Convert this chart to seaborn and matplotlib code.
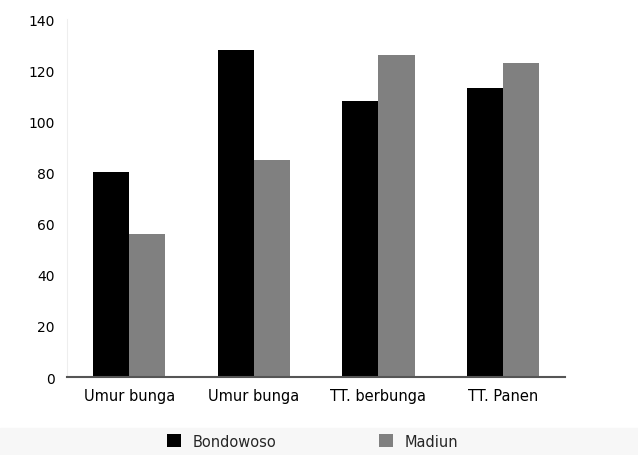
import seaborn as sns
import numpy as np
import pandas as pd
import matplotlib.pyplot as plt

# Data
categories = ["Umur bunga", "Umur bunga", "TT. berbunga", "TT. Panen"]
cat_keys = ["c0", "c1", "c2", "c3"]  # unique keys, since two labels repeat
bondowoso = [80, 128, 108, 113]
madiun = [56, 85, 126, 123]
series = ["Bondowoso", "Madiun"]

df = pd.DataFrame({
    "cat": cat_keys * 2,
    "value": bondowoso + madiun,
    "series": [series[0]] * 4 + [series[1]] * 4,
})

sns.set_style("white")
fig = plt.figure(figsize=(6.38, 4.56), dpi=100)
ax = fig.add_axes([0.105, 0.171, 0.781, 0.785])

sns.barplot(data=df, x="cat", y="value", hue="series", order=cat_keys,
            hue_order=series, palette=["#000000", "#808080"],
            width=0.58, saturation=1, linewidth=0, gap=0, ax=ax)

ax.set_xlim(-0.5, 3.5)
ax.set_ylim(0, 140)
ax.set_yticks(np.arange(0, 141, 20))
ax.set_xticks(range(4))
ax.set_xticklabels(categories, fontsize=10.5)
ax.set_xticks([0.5, 1.5, 2.5], minor=True)
ax.tick_params(axis="x", which="major", length=0, pad=8, labelcolor="black")
ax.tick_params(axis="x", which="minor", length=4, color="#555555", direction="out")
ax.tick_params(axis="y", length=3, color="#888888", labelsize=10, pad=6,
               labelcolor="black")
ax.set_xlabel("")
ax.set_ylabel("")

for s in ["top", "right"]:
    ax.spines[s].set_visible(False)
ax.spines["left"].set_color("#eeeeee")
ax.spines["bottom"].set_color("#555555")
ax.spines["bottom"].set_linewidth(1.5)

ax.legend_.remove()
handles, labels = ax.get_legend_handles_labels()
fig.patches.append(plt.Rectangle((0, 0), 1, 0.06, transform=fig.transFigure,
                                 color="#f7f7f7", zorder=-1))
fig.legend(handles, labels, loc="center", bbox_to_anchor=(0.49, 0.03), ncol=2,
           frameon=False, fontsize=10.5, columnspacing=7, handlelength=1,
           handleheight=1)

fig.savefig("out.png", dpi=100)
